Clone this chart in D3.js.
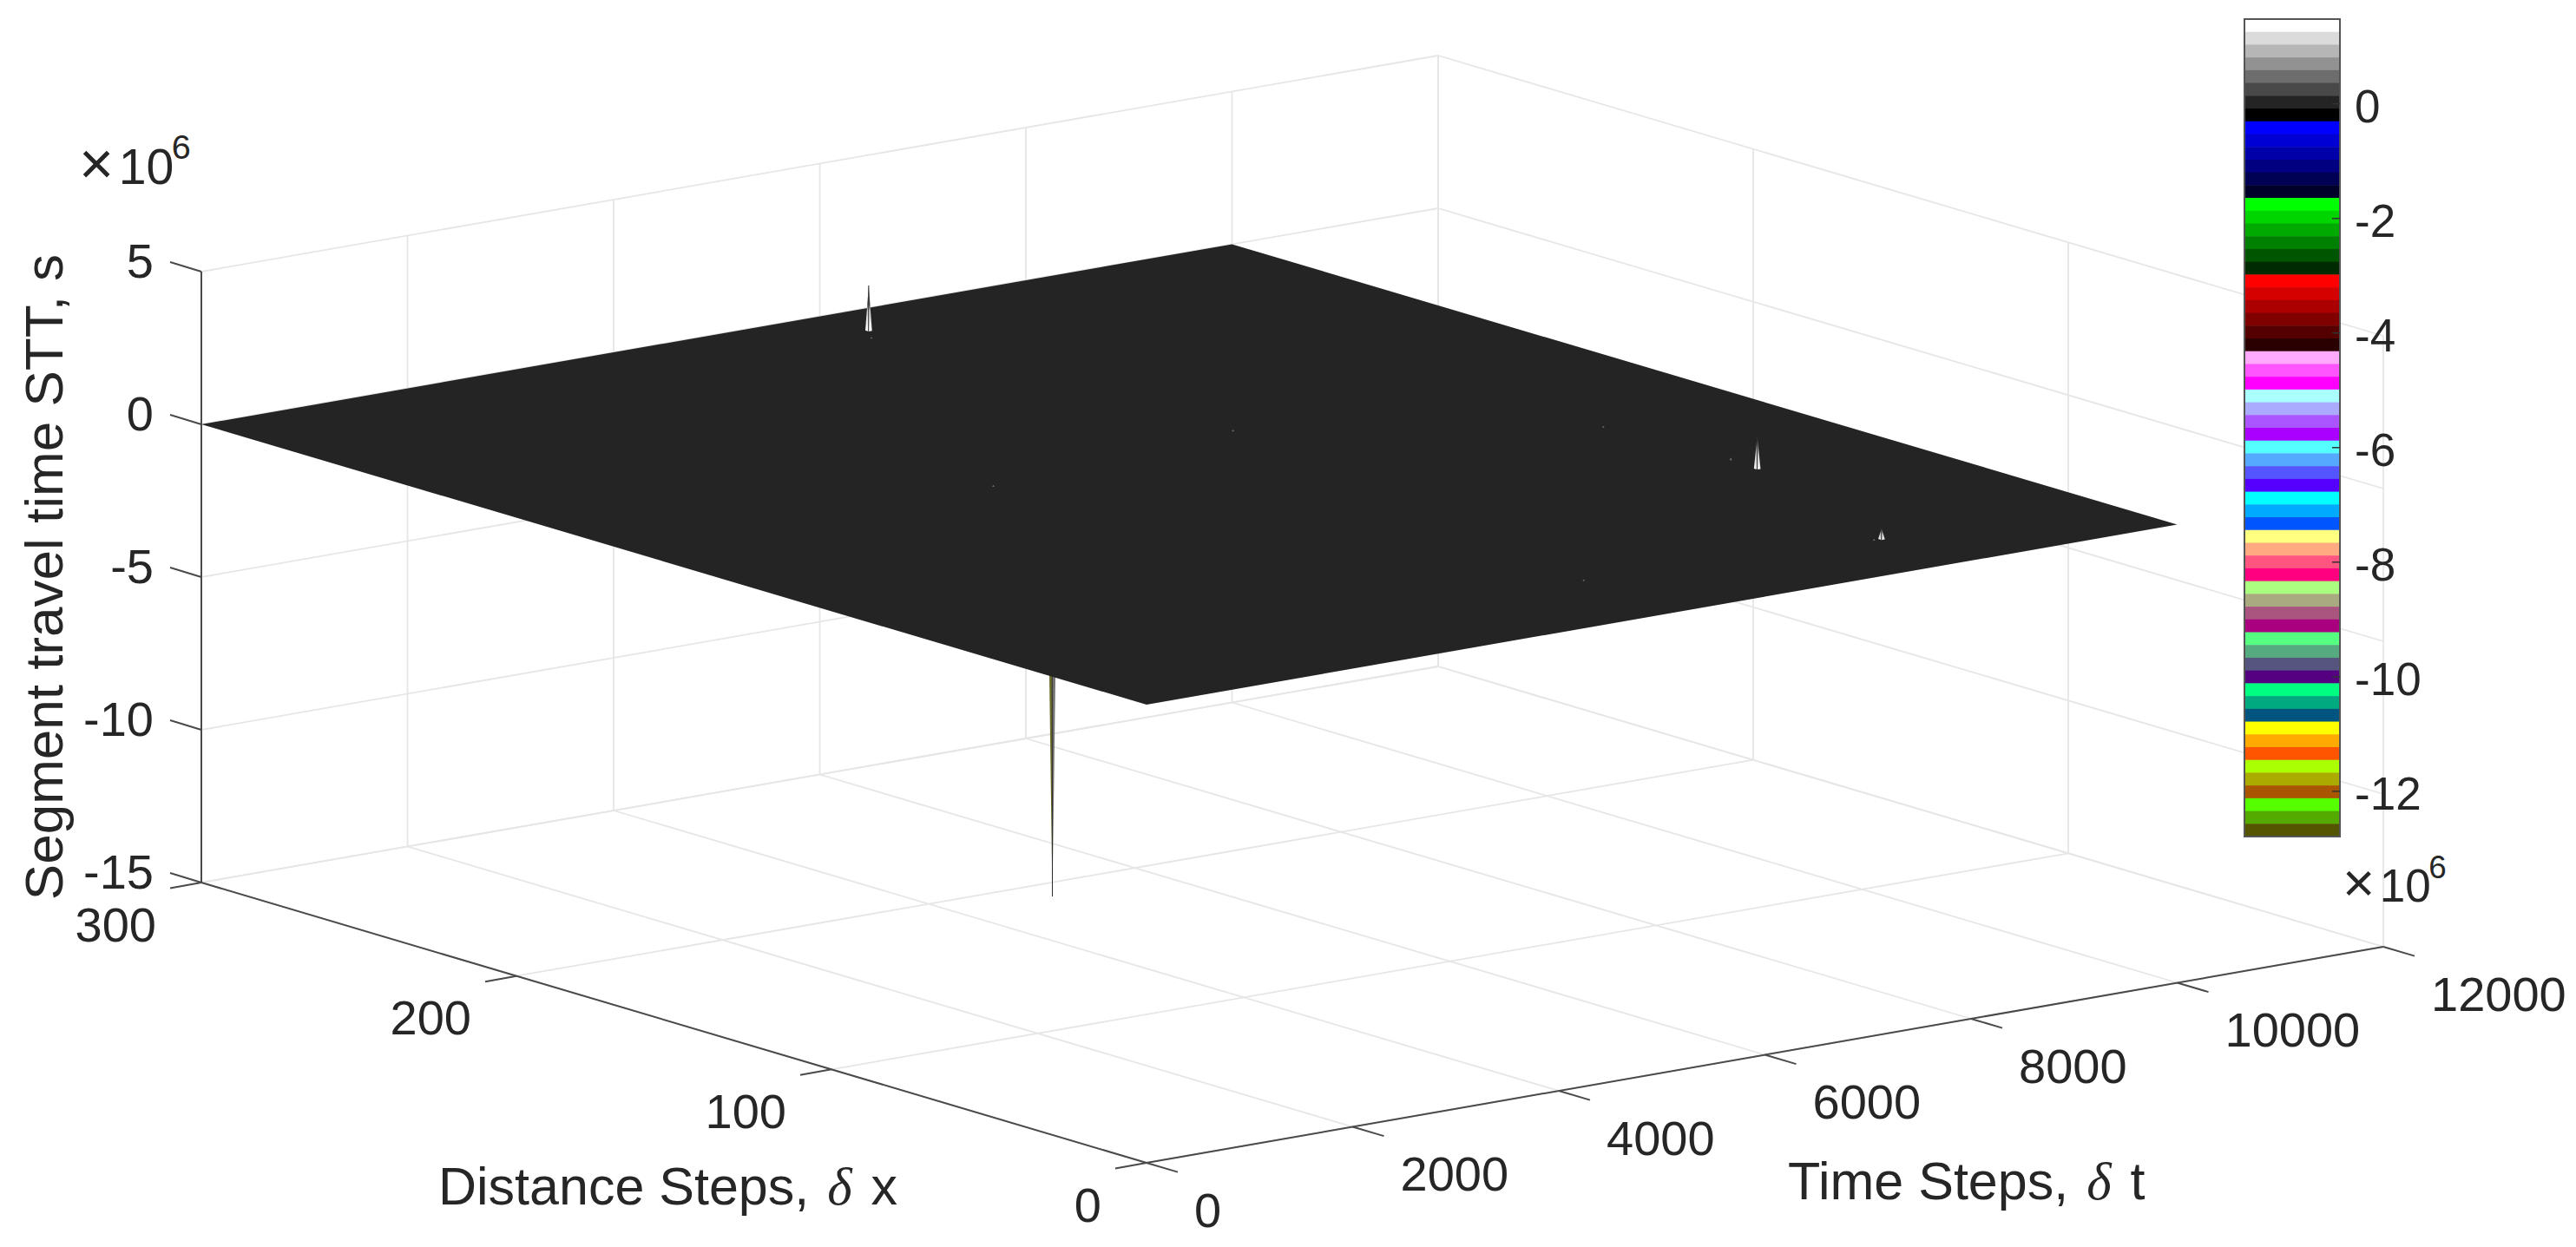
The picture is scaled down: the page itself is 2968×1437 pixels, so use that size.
<!DOCTYPE html>
<html>
<head>
<meta charset="utf-8">
<script src="https://cdn.jsdelivr.net/npm/d3@7"></script>
<style>
  body { margin: 0; background: #fff; }
  text { font-family: "Liberation Sans", Arial, sans-serif; fill: #262626; }
</style>
</head>
<body>
<div id="chart"></div>
<script>
// tick labels
const tTicks = [0, 2000, 4000, 6000, 8000, 10000, 12000];
const xTicks = [0, 100, 200, 300];
const zTicks = [-15, -10, -5, 0, 5];
const cbTicks = [-12, -10, -8, -6, -4, -2, 0];

// surface extent (flat at zero apart from the spikes), z in units of 1e6
const surfT = [0, 10000];
const surfX = [0, 300];
const surfZ = 0;

// upward spikes
const spikeT = [6004, 8585, 7896];
const spikeX = [284.6, 87, 25];
const spikeZ = [1.48, 1.05, 0.35];

// the one big downward spike
const dropT = [3519];
const dropX = [145];
const dropZ = [-12.79];

// tiny bumps on the surface
const speckT = [6158, 3557, 8497, 5220, 8604, 5860, 7823];
const speckX = [174, 165, 133, 32, 96, 279, 25];
const speckZ = [0.05, 0.05, 0.05, 0.05, 0.08, 0.05, 0.05];

// colorcube, flipped: top of the colorbar first
const colormap = [
  '#ffffff', '#dbdbdb', '#b6b6b6', '#929292', '#6d6d6d', '#494949', '#242424', '#000000',
  '#0000ff', '#0000d5', '#0000aa', '#000080', '#000055', '#00002b',
  '#00ff00', '#00d500', '#00aa00', '#008000', '#005500', '#002b00',
  '#ff0000', '#d50000', '#aa0000', '#800000', '#550000', '#2b0000',
  '#ffaaff', '#ff55ff', '#ff00ff',
  '#aaffff', '#aaaaff', '#aa55ff', '#aa00ff',
  '#55ffff', '#55aaff', '#5555ff', '#5500ff',
  '#00ffff', '#00aaff', '#0055ff',
  '#ffff80', '#ffaa80', '#ff5580', '#ff0080',
  '#aaff80', '#aaaa80', '#aa5580', '#aa0080',
  '#55ff80', '#55aa80', '#555580', '#550080',
  '#00ff80', '#00aa80', '#005580',
  '#ffff00', '#ffaa00', '#ff5500',
  '#aaff00', '#aaaa00', '#aa5500',
  '#55ff00', '#55aa00', '#555500'
];

const width = 2968, height = 1437;
const GRID = '#e6e6e6', AXIS = '#4a4a4a';

const svg = d3.select('#chart').append('svg')
  .attr('width', width)
  .attr('height', height)
  .style('display', 'block');

// value extent shared by the surface colours and the colorbar
const zMin = d3.min(dropZ), zMax = d3.max(spikeZ);
const color = d3.scaleQuantize().domain([zMin, zMax]).range(colormap.slice().reverse());

// oblique projection, one pair of scales per data axis
const originX = 1321, originY = 1340;
const tToX = d3.scaleLinear().domain([0, 12000]).range([0, 1425]);
const tToY = d3.scaleLinear().domain([0, 12000]).range([0, -249]);
const xToX = d3.scaleLinear().domain([0, 300]).range([0, -1089]);
const xToY = d3.scaleLinear().domain([0, 300]).range([0, -323]);
const zToY = d3.scaleLinear().domain([-15, 5]).range([0, -704]);

function project(t, x, z) {
  return [originX + tToX(t) + xToX(x), originY + tToY(t) + xToY(x) + zToY(z)];
}
const poly = pts => 'M' + pts.map(p => project(p[0], p[1], p[2]).join(',')).join('L') + 'Z';

function drawLines(parent, rows, stroke, sw) {
  parent.append('g').selectAll('line')
    .data(rows)
    .enter().append('line')
    .attr('x1', d => project(d[0][0], d[0][1], d[0][2])[0])
    .attr('y1', d => project(d[0][0], d[0][1], d[0][2])[1])
    .attr('x2', d => project(d[1][0], d[1][1], d[1][2])[0])
    .attr('y2', d => project(d[1][0], d[1][1], d[1][2])[1])
    .attr('stroke', stroke)
    .attr('stroke-width', sw);
}

// grid on the floor and the two back walls
const grid = svg.append('g');
const tEnd = d3.max(tTicks), xEnd = d3.max(xTicks), zLow = d3.min(zTicks), zHigh = d3.max(zTicks);
drawLines(grid, tTicks.map(t => [[t, 0, zLow], [t, xEnd, zLow]]), GRID, 1.8);
drawLines(grid, xTicks.map(x => [[0, x, zLow], [tEnd, x, zLow]]), GRID, 1.8);
drawLines(grid, tTicks.map(t => [[t, xEnd, zLow], [t, xEnd, zHigh]]), GRID, 1.8);
drawLines(grid, xTicks.map(x => [[tEnd, x, zLow], [tEnd, x, zHigh]]), GRID, 1.8);
drawLines(grid, zTicks.map(z => [[0, xEnd, z], [tEnd, xEnd, z]]), GRID, 1.8);
drawLines(grid, zTicks.map(z => [[tEnd, xEnd, z], [tEnd, 0, z]]), GRID, 1.8);

// axis lines
const axes = svg.append('g');
drawLines(axes, [
  [[0, 0, zLow], [tEnd, 0, zLow]],
  [[0, 0, zLow], [0, xEnd, zLow]],
  [[0, xEnd, zLow], [0, xEnd, zHigh]]
], AXIS, 2);

// tick marks, pixel offsets away from the box
const tickLines = axes.append('g').attr('stroke', AXIS).attr('stroke-width', 2);
function tickMarks(pts, dx, dy) {
  tickLines.append('g').selectAll('line')
    .data(pts)
    .enter().append('line')
    .attr('x1', d => d[0]).attr('y1', d => d[1])
    .attr('x2', d => d[0] + dx).attr('y2', d => d[1] + dy);
}
tickMarks(tTicks.map(t => project(t, 0, zLow)), 36, 10.6);
tickMarks(xTicks.map(x => project(0, x, zLow)), -36, 6.5);
tickMarks(zTicks.map(z => project(0, xEnd, z)), -36, -11);

// tick labels
function tickLabels(rows, anchor, size) {
  svg.append('g').selectAll('text')
    .data(rows)
    .enter().append('text')
    .attr('x', d => d.x)
    .attr('y', d => d.y)
    .attr('dy', '0.35em')
    .attr('text-anchor', anchor)
    .style('font-size', size + 'px')
    .text(d => d.label);
}
tickLabels(tTicks.map(t => {
  const p = project(t, 0, zLow);
  return { x: p[0] + 55, y: p[1] + 54, label: t };
}), 'start', 56);
tickLabels(xTicks.map(x => {
  const p = project(0, x, zLow);
  return { x: p[0] - 52, y: p[1] + 48, label: x };
}), 'end', 56);
tickLabels(zTicks.map(z => {
  const p = project(0, xEnd, z);
  return { x: p[0] - 55, y: p[1] - 13, label: z };
}), 'end', 56);

// shades for the upward spikes: the tall one goes dark above the sheet edge
const defs = svg.append('defs');
function shade(id, stops) {
  const grad = defs.append('linearGradient')
    .attr('id', id)
    .attr('x1', 0).attr('y1', 1).attr('x2', 0).attr('y2', 0);
  stops.forEach(s => grad.append('stop').attr('offset', s[0]).attr('stop-color', s[1]));
}
shade('shadeTall', [['0%', '#ffffff'], ['45%', '#cfcfcf'], ['60%', '#3a3a3a'], ['100%', '#4a4a4a']]);
shade('shadeLow', [['0%', '#f0f0f0'], ['50%', '#c8c8c8'], ['100%', '#555555']]);

function spikeFaces(t, x, z, dt, dx) {
  const tip = [t, x, z];
  const left = [t - dt, x + dx, 0], front = [t - dt, x - dx, 0], right = [t + dt, x - dx, 0];
  return { a: [left, front, tip], b: [front, right, tip], tip: tip, front: front };
}

// downward spike goes under the sheet
const drops = dropT.map((t, i) => spikeFaces(t, dropX[i], dropZ[i], 28, 0.8));
const dropG = svg.append('g');
dropG.selectAll('path.a').data(drops).enter().append('path')
  .attr('class', 'a').attr('d', d => poly(d.a)).attr('fill', '#6c6c2c');
dropG.selectAll('path.b').data(drops).enter().append('path')
  .attr('class', 'b').attr('d', d => poly(d.b)).attr('fill', '#727272');
drawLines(dropG, drops.map(d => [d.tip, d.front]), '#2a2a2a', 1);

// the surface sheet
svg.append('path')
  .attr('d', poly([
    [surfT[0], surfX[0], surfZ],
    [surfT[1], surfX[0], surfZ],
    [surfT[1], surfX[1], surfZ],
    [surfT[0], surfX[1], surfZ]
  ]))
  .attr('fill', color(surfZ));

// upward spikes
const spikes = spikeT.map((t, i) => spikeFaces(t, spikeX[i], spikeZ[i], 17, 0.5));
const spikeG = svg.append('g');
spikeG.selectAll('g').data(spikes).enter().append('g')
  .attr('fill', (d, i) => i === 0 ? 'url(#shadeTall)' : 'url(#shadeLow)')
  .selectAll('path')
  .data(d => [d.a, d.b])
  .enter().append('path')
  .attr('d', d => poly(d));
drawLines(spikeG, spikes.map(d => [d.tip, d.front]), '#303030', 1);

// specks
svg.append('g').selectAll('path')
  .data(speckT.map((t, i) => spikeFaces(t, speckX[i], speckZ[i], 6, 0.2)))
  .enter().append('path')
  .attr('d', d => poly(d.a.concat(d.b)))
  .attr('fill', '#6f6f6f');

// axis titles, the delta comes out of the serif italic face
function axisTitle(x, y, before, after) {
  const t = svg.append('text').attr('x', x).attr('y', y).style('font-size', '61px');
  t.append('tspan').text(before);
  t.append('tspan')
    .attr('dx', 4)
    .style('font-family', '"Liberation Serif", serif')
    .style('font-style', 'italic')
    .text('δ');
  t.append('tspan').attr('dx', 5).text(after);
}
svg.append('text')
  .attr('transform', 'translate(72,665) rotate(-90)')
  .attr('text-anchor', 'middle')
  .style('font-size', '62px')
  .text('Segment travel time STT, s');
axisTitle(505, 1388, 'Distance Steps, ', ' x');
axisTitle(2060, 1382, 'Time Steps, ', ' t');

// x10^6 exponent marks, placed piece by piece
function exponent(x, y, size) {
  svg.append('text').attr('x', x - 4).attr('y', y).style('font-size', size * 1.25 + 'px').text('×');
  svg.append('text').attr('x', x + size * 0.76).attr('y', y).style('font-size', size * 1.04 + 'px').text('10');
  svg.append('text').attr('x', x + size * 1.87).attr('y', y - size * 0.52)
    .style('font-size', size * 0.72 + 'px').text('6');
}
exponent(95, 212, 55);
exponent(2703, 1039, 51);

// colorbar
const barLeft = 2586, barRight = 2696, barTop = 22, barBottom = 964;
const band = d3.scaleBand().domain(d3.range(colormap.length)).range([barTop, barBottom]);
const barY = d3.scaleLinear().domain([zMin, zMax]).range([barBottom, barTop]);
const bar = svg.append('g');
bar.selectAll('rect')
  .data(colormap)
  .enter().append('rect')
  .attr('x', barLeft)
  .attr('y', (d, i) => band(i))
  .attr('width', barRight - barLeft)
  .attr('height', band.bandwidth() + 0.5)
  .attr('fill', d => d);
bar.append('rect')
  .attr('x', barLeft).attr('y', barTop)
  .attr('width', barRight - barLeft).attr('height', barBottom - barTop)
  .attr('fill', 'none').attr('stroke', '#555').attr('stroke-width', 2);
bar.append('g').selectAll('line')
  .data(cbTicks)
  .enter().append('line')
  .attr('x1', barRight - 9).attr('x2', barRight)
  .attr('y1', d => barY(d)).attr('y2', d => barY(d))
  .attr('stroke', '#333').attr('stroke-width', 1.5);
tickLabels(cbTicks.map(v => ({ x: 2713, y: barY(v) + 3, label: v })), 'start', 53);
</script>
</body>
</html>
